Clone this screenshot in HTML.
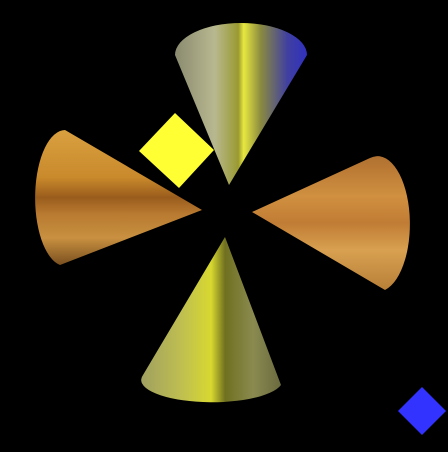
<!DOCTYPE html>
<html>
<head>
<meta charset="utf-8">
<style>
html,body{margin:0;padding:0;background:#000;}
svg{display:block;}
</style>
</head>
<body>
<svg width="448" height="452" viewBox="0 0 448 452" xmlns="http://www.w3.org/2000/svg">
  <defs>
    <linearGradient id="metalTop" x1="0" y1="0" x2="1" y2="0">
      <stop offset="0" stop-color="#8a8a70"/>
      <stop offset="0.3" stop-color="#b8b890"/>
      <stop offset="0.48" stop-color="#9a9a30"/>
      <stop offset="0.52" stop-color="#e8e840"/>
      <stop offset="0.65" stop-color="#8a8a40"/>
      <stop offset="0.85" stop-color="#4040a0"/>
      <stop offset="1" stop-color="#3030c0"/>
    </linearGradient>
    <linearGradient id="metalBottom" x1="0" y1="0" x2="1" y2="0">
      <stop offset="0" stop-color="#a0a060"/>
      <stop offset="0.3" stop-color="#c0c050"/>
      <stop offset="0.5" stop-color="#d8d830"/>
      <stop offset="0.6" stop-color="#707020"/>
      <stop offset="0.8" stop-color="#8a8a50"/>
      <stop offset="1" stop-color="#6a6a40"/>
    </linearGradient>
    <linearGradient id="woodLeft" x1="0" y1="0" x2="0" y2="1">
      <stop offset="0" stop-color="#d9a040"/>
      <stop offset="0.35" stop-color="#c98a2c"/>
      <stop offset="0.5" stop-color="#9a5c1c"/>
      <stop offset="0.62" stop-color="#b87a30"/>
      <stop offset="0.8" stop-color="#c89040"/>
      <stop offset="1" stop-color="#7a5020"/>
    </linearGradient>
    <linearGradient id="woodRight" x1="0" y1="0" x2="0" y2="1">
      <stop offset="0" stop-color="#b07030"/>
      <stop offset="0.3" stop-color="#d09040"/>
      <stop offset="0.5" stop-color="#c07c34"/>
      <stop offset="0.7" stop-color="#d8a050"/>
      <stop offset="1" stop-color="#b88038"/>
    </linearGradient>
  </defs>
  <rect x="0" y="0" width="448" height="452" fill="#000"/>
  <path d="M175,55 L229,185 L307,55 A66,32 0 0 0 175,55 Z" fill="url(#metalTop)"/>
  <path d="M143,375 L225,237 L281,385 A70,22 0 0 1 143,375 Z" fill="url(#metalBottom)"/>
  <path d="M65,130 L202,210 L60,265 A30,68 0 0 1 65,130 Z" fill="url(#woodLeft)"/>
  <path d="M370,158 L252,212 L385,290 A32,67 0 0 0 370,158 Z" fill="url(#woodRight)"/>
  <polygon points="175,113 214,150 179,188 139,151" fill="#ffff33"/>
  <polygon points="422,387 446,411 422,435 398,411" fill="#3333ff"/>
</svg>
</body>
</html>
